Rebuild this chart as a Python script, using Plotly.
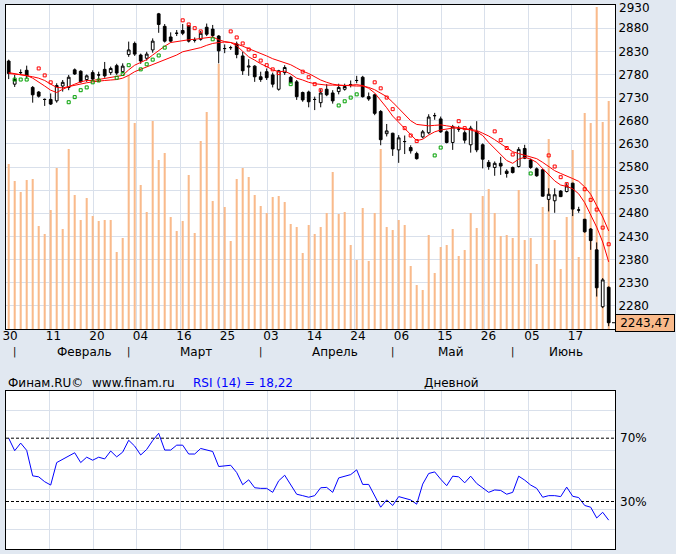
import numpy as np
import plotly.graph_objects as go

# ---------------- data ----------------
n_bars = 101
bar_idx = list(range(n_bars))

opens = [2809, 2759, 2784, 2789, 2752, 2742, 2726, 2726, 2723, 2755,
         2752, 2790, 2787, 2769, 2784, 2779, 2791, 2784, 2799, 2786,
         2823, 2847, 2822, 2815, 2833, 2911, 2884, 2861, 2869, 2875,
         2885, 2854, 2856, 2882, 2878, 2863, 2836, 2838, 2846, 2820,
         2796, 2798, 2775, 2786, 2779, 2748, 2784, 2774, 2764, 2741,
         2742, 2726, 2719, 2748, 2740, 2743, 2748, 2758, 2767, 2774,
         2732, 2736, 2700, 2652, 2653, 2617, 2635, 2622, 2609, 2645,
         2654, 2691, 2684, 2656, 2633, 2662, 2654, 2628, 2656, 2628,
         2590, 2579, 2588, 2571, 2579, 2581, 2620, 2595, 2576, 2574,
         2510, 2507, 2528, 2527, 2545, 2487, 2467, 2446, 2401, 2278,
         2320]
highs = [2812, 2779, 2791, 2799, 2755, 2744, 2728, 2739, 2761, 2768,
         2779, 2793, 2789, 2780, 2789, 2786, 2807, 2797, 2803, 2804,
         2851, 2851, 2825, 2829, 2858, 2913, 2889, 2871, 2876, 2889,
         2887, 2860, 2874, 2890, 2887, 2865, 2845, 2842, 2851, 2829,
         2813, 2800, 2786, 2793, 2784, 2790, 2800, 2777, 2768, 2743,
         2745, 2732, 2748, 2759, 2746, 2760, 2760, 2767, 2777, 2777,
         2741, 2738, 2703, 2673, 2654, 2649, 2648, 2627, 2613, 2660,
         2694, 2697, 2689, 2659, 2671, 2669, 2659, 2669, 2679, 2631,
         2595, 2592, 2602, 2575, 2581, 2623, 2628, 2598, 2579, 2575,
         2534, 2534, 2530, 2545, 2546, 2494, 2468, 2448, 2417, 2340,
         2322]
lows = [2770, 2753, 2779, 2771, 2719, 2730, 2712, 2714, 2719, 2743,
        2746, 2779, 2762, 2764, 2766, 2764, 2773, 2779, 2779, 2782,
        2818, 2820, 2803, 2810, 2827, 2870, 2849, 2849, 2863, 2865,
        2849, 2849, 2853, 2863, 2860, 2804, 2826, 2833, 2815, 2779,
        2777, 2764, 2764, 2768, 2752, 2745, 2779, 2761, 2725, 2721,
        2709, 2703, 2709, 2733, 2717, 2737, 2745, 2752, 2761, 2730,
        2723, 2692, 2627, 2646, 2604, 2589, 2608, 2609, 2596, 2642,
        2651, 2682, 2654, 2631, 2617, 2656, 2631, 2611, 2612, 2577,
        2574, 2561, 2563, 2557, 2566, 2579, 2597, 2576, 2559, 2516,
        2484, 2481, 2515, 2525, 2474, 2481, 2438, 2401, 2300, 2275,
        2236]
closes = [2782, 2769, 2784, 2777, 2736, 2733, 2726, 2716, 2756, 2763,
          2774, 2781, 2764, 2777, 2770, 2779, 2777, 2793, 2783, 2798,
          2833, 2824, 2809, 2824, 2852, 2888, 2852, 2852, 2869, 2869,
          2852, 2854, 2869, 2867, 2864, 2831, 2836, 2838, 2823, 2788,
          2798, 2775, 2769, 2773, 2759, 2788, 2795, 2762, 2732, 2725,
          2721, 2726, 2740, 2736, 2723, 2752, 2754, 2758, 2767, 2732,
          2727, 2696, 2639, 2658, 2619, 2643, 2635, 2615, 2598, 2656,
          2688, 2691, 2656, 2633, 2667, 2662, 2638, 2664, 2617, 2597,
          2581, 2588, 2582, 2566, 2568, 2618, 2599, 2579, 2561, 2517,
          2521, 2520, 2516, 2539, 2489, 2487, 2440, 2421, 2319, 2336,
          2243.47]

volume = [165, 148, 137, 149, 150, 103, 95, 119, 161, 100,
          180, 134, 109, 131, 113, 108, 109, 109, 77, 91,
          254, 206, 144, 117, 208, 169, 176, 112, 98, 108,
          154, 96, 188, 217, 128, 265, 122, 88, 150, 161,
          152, 134, 123, 116, 132, 133, 127, 105, 102, 76,
          104, 95, 102, 116, 157, 115, 117, 84, 69, 121,
          68, 116, 180, 102, 99, 109, 104, 63, 44, 39,
          94, 56, 82, 84, 100, 73, 79, 116, 101, 133,
          140, 116, 93, 94, 91, 139, 89, 91, 65, 122,
          190, 89, 60, 112, 179, 72, 216, 206, 322, 207,
          228]

ma_fast = [2782, 2781, 2779, 2778, 2772, 2764, 2755, 2746, 2741, 2748,
           2754, 2759, 2764, 2767, 2767, 2769, 2771, 2773, 2775, 2778,
           2790, 2800, 2806, 2812, 2822, 2832, 2841, 2849, 2851, 2854,
           2855, 2856, 2858, 2860, 2861, 2855, 2851, 2849, 2842, 2830,
           2818, 2811, 2803, 2797, 2790, 2786, 2787, 2781, 2772, 2768,
           2763, 2760, 2758, 2757, 2757, 2756, 2756, 2757, 2758, 2756,
           2750, 2740, 2725, 2708, 2690, 2676, 2662, 2650, 2637, 2640,
           2649, 2656, 2660, 2662, 2664, 2664, 2662, 2660, 2656, 2648,
           2633, 2620, 2605, 2594, 2588, 2597, 2601, 2597, 2590, 2577,
           2562, 2550, 2541, 2538, 2533, 2522, 2503, 2478, 2450, 2418,
           2375]
ma_slow = [2784, 2782, 2780, 2778, 2775, 2772, 2767, 2759, 2752, 2751,
           2754, 2757, 2759, 2762, 2764, 2766, 2767, 2768, 2769, 2772,
           2778, 2786, 2791, 2796, 2801, 2806, 2811, 2817, 2822, 2829,
           2832, 2835, 2838, 2843, 2847, 2849, 2850, 2849, 2846, 2841,
           2836, 2831, 2826, 2820, 2814, 2810, 2805, 2801, 2794, 2787,
           2782, 2775, 2768, 2763, 2759, 2757, 2756, 2755, 2755, 2755,
           2752, 2747, 2740, 2732, 2720, 2706, 2693, 2680, 2672, 2670,
           2669, 2670, 2671, 2669, 2667, 2666, 2664, 2662, 2659, 2653,
           2647, 2639, 2630, 2621, 2613, 2609, 2605, 2602, 2598, 2590,
           2580, 2572, 2566, 2561, 2555, 2549, 2537, 2521, 2498, 2472,
           2442]

sar_below_idx = [1, 2, 3, 10, 11, 12, 13, 14, 15, 18, 19, 20, 22, 23, 24, 25, 26,
                 34, 47, 55, 56, 57, 58, 71, 72, 87]
sar_below_val = [2769, 2769, 2769, 2720, 2731, 2746, 2752, 2763, 2767, 2773, 2781,
                 2800, 2791, 2802, 2812, 2821, 2838, 2856, 2759, 2713, 2722, 2730,
                 2737, 2605, 2622, 2566]
sar_above_idx = [5, 6, 7, 29, 30, 31, 32, 37, 38, 39, 40, 41, 42, 43, 44, 45,
                 49, 50, 51, 52, 61, 62, 63, 64, 65, 66, 67, 68, 75, 76,
                 81, 82, 83, 84, 90, 91, 92, 93, 96, 97, 98, 99, 100]
sar_above_val = [2793, 2778, 2763, 2897, 2888, 2880, 2873, 2873, 2860, 2847, 2834,
                 2820, 2810, 2800, 2791, 2783, 2786, 2774, 2759, 2746, 2763, 2750,
                 2730, 2705, 2685, 2664, 2648, 2636, 2679, 2664, 2657, 2638, 2621,
                 2607, 2605, 2581, 2558, 2543, 2532, 2509, 2488, 2449, 2413]

rsi = [70.0, 62.1, 66.9, 62.3, 46.2, 45.6, 42.5, 40.4, 54.6, 56.6,
       58.5, 60.8, 54.6, 58.0, 56.1, 58.0, 56.9, 61.9, 58.2, 61.2,
       68.7, 65.0, 59.4, 62.9, 68.5, 73.1, 62.5, 62.5, 65.6, 65.6,
       60.0, 60.0, 63.5, 62.7, 61.6, 52.1, 52.5, 52.9, 48.3, 40.6,
       43.7, 38.7, 38.3, 38.3, 35.8, 43.1, 46.6, 40.4, 34.6, 33.7,
       32.7, 33.7, 38.7, 38.9, 35.8, 44.9, 46.2, 47.0, 50.0, 40.8,
       40.8, 33.7, 26.4, 31.0, 27.5, 33.1, 32.0, 31.0, 28.3, 41.0,
       47.7, 48.7, 44.1, 40.0, 46.0, 45.6, 41.8, 46.0, 41.4, 38.3,
       35.8, 37.3, 37.0, 34.6, 35.8, 46.0, 43.5, 40.4, 38.3, 32.7,
       33.7, 33.7, 33.1, 39.1, 33.3, 32.5, 27.5, 26.4, 19.6, 23.2,
       18.22]

date_labels = ["30", "11", "20", "04", "16", "25", "03", "14", "24", "06",
               "15", "26", "05", "17"]
month_names = ["Февраль", "Март", "Апрель", "Май", "Июнь"]
month_start_idx = [1, 20, 42, 64, 84]
month_label_pos = [12.7, 31.2, 54.3, 73.7, 92.9]
price_ticks = list(range(2280, 2931, 50))
rsi_levels = [30, 70]
last_price = closes[-1]

# ---------------- style ----------------
FONT = "DejaVu Sans"
BG = "#E1E8F1"
GRID = "#D9E0EB"
VOL = "#F9BA8B"

W, H = 676, 554
ML, MR, MT, MB = 6, 61, 5, 5
plot_h = H - MT - MB
main_bottom = (H - MB - 329) / plot_h
rsi_top = (H - MB - 390.7) / plot_h

x_lo, x_hi = -0.45, 101.05
tick_pos = list(np.linspace(x_lo, x_hi, 15)[:14])
tick_pos[0] = x_lo + 0.02

fig = go.Figure()

fig.add_trace(go.Bar(x=bar_idx, y=volume, width=0.34, marker=dict(color=VOL, line=dict(width=0)),
                     xaxis="x", yaxis="y", hoverinfo="skip"))
fig.add_trace(go.Scatter(x=bar_idx, y=ma_slow, mode="lines", line=dict(color="#FF0000", width=1),
                         xaxis="x", yaxis="y3", hoverinfo="skip"))
fig.add_trace(go.Scatter(x=bar_idx, y=ma_fast, mode="lines", line=dict(color="#FF0000", width=1),
                         xaxis="x", yaxis="y3", hoverinfo="skip"))
fig.add_trace(go.Candlestick(x=bar_idx, open=opens, high=highs, low=lows, close=closes,
                             xaxis="x", yaxis="y3", whiskerwidth=0,
                             increasing=dict(line=dict(color="black", width=1), fillcolor="white"),
                             decreasing=dict(line=dict(color="black", width=1), fillcolor="black"),
                             hoverinfo="skip"))
fig.add_trace(go.Scatter(x=sar_below_idx, y=sar_below_val, mode="markers",
                         marker=dict(symbol="square-open", size=3, color="#00A000", line=dict(width=1)),
                         xaxis="x", yaxis="y3", hoverinfo="skip"))
fig.add_trace(go.Scatter(x=sar_above_idx, y=sar_above_val, mode="markers",
                         marker=dict(symbol="square-open", size=3, color="#FF0000", line=dict(width=1)),
                         xaxis="x", yaxis="y3", hoverinfo="skip"))
fig.add_trace(go.Scatter(x=bar_idx, y=rsi, mode="lines", line=dict(color="#0000FF", width=1),
                         xaxis="x2", yaxis="y2", hoverinfo="skip"))

axis_common = dict(showline=True, mirror=True, linecolor="black", linewidth=1,
                   zeroline=False, ticks="", gridcolor=GRID, gridwidth=1, automargin=False,
                   tickfont=dict(family=FONT, size=12, color="black"))

# the top price label is drawn as an annotation so that it stays fully inside the page
axis_price_text = [str(v) if v != price_ticks[-1] else "" for v in price_ticks]

fig.update_layout(
    width=W, height=H, margin=dict(l=ML, r=MR, t=MT, b=MB, autoexpand=False),
    paper_bgcolor=BG, plot_bgcolor="white", showlegend=False, hovermode=False,
    boxgap=0.35,
    font=dict(family=FONT, size=12, color="black"),
    xaxis=dict(domain=[0, 1], anchor="y", range=[x_lo, x_hi], tickmode="array",
               tickvals=tick_pos, ticktext=date_labels, showgrid=True,
               ticklabelshift=4, ticklabelstandoff=-4, ticklabeloverflow="allow",
               rangeslider=dict(visible=False), **axis_common),
    yaxis=dict(domain=[main_bottom, 1], range=[0, 324], visible=False),
    yaxis3=dict(overlaying="y", anchor="x", side="right", range=[2229.9, 2930.1],
                tickmode="array", tickvals=price_ticks, ticklabeloverflow="allow",
                ticktext=axis_price_text, showgrid=True, **axis_common),
    xaxis2=dict(domain=[0, 1], anchor="y2", matches="x", range=[x_lo, x_hi],
                tickmode="array", tickvals=tick_pos, showticklabels=False, showgrid=True,
                rangeslider=dict(visible=False), **axis_common),
    yaxis2=dict(domain=[0, rsi_top], anchor="x2", side="right", range=[0, 100],
                tickmode="array", tickvals=[12.5 * k for k in range(1, 8)],
                showticklabels=False, showgrid=True, **axis_common),
)

shapes = []
for lvl in rsi_levels:
    shapes.append(dict(type="line", xref="x2 domain", x0=0, x1=1, yref="y2", y0=lvl, y1=lvl,
                       line=dict(color="black", width=1, dash="3px,2px"), layer="above"))
shapes.append(dict(type="line", xref="paper", xsizemode="pixel", xanchor=1, x0=-3, x1=0,
                   yref="y3", y0=last_price, y1=last_price, line=dict(color="black", width=1)))
fig.update_layout(shapes=shapes)

row_month_y = (H - MB - 351.7) / plot_h
row_info_y = (H - MB - 382.7) / plot_h
ann = []
for name, pos in zip(month_names, month_label_pos):
    ann.append(dict(x=pos, xref="x", y=row_month_y, yref="paper", text=name, showarrow=False,
                    xanchor="center", yanchor="middle", font=dict(family=FONT, size=12, color="black")))
for pos in month_start_idx:
    ann.append(dict(x=pos, xref="x", y=row_month_y, yref="paper", text="|", showarrow=False,
                    xanchor="center", yanchor="middle", borderpad=0,
                    font=dict(family=FONT, size=10, color="black")))


def px_to_paper_x(px):
    return (px - ML) / (W - ML - MR)


ann.append(dict(x=px_to_paper_x(6.7), xref="paper", y=row_info_y, yref="paper", text="Финам.RU©",
                showarrow=False, xanchor="left", yanchor="middle", borderpad=0,
                font=dict(family=FONT, size=12, color="black")))
ann.append(dict(x=px_to_paper_x(90.7), xref="paper", y=row_info_y, yref="paper", text="www.finam.ru",
                showarrow=False, xanchor="left", yanchor="middle", borderpad=0,
                font=dict(family=FONT, size=12, color="black")))
ann.append(dict(x=px_to_paper_x(191.7), xref="paper", y=row_info_y, yref="paper",
                text="RSI (14) = 18,22", showarrow=False, xanchor="left", yanchor="middle",
                borderpad=0, font=dict(family=FONT, size=12, color="#0000FF")))
ann.append(dict(x=px_to_paper_x(451.7), xref="paper", y=row_info_y, yref="paper", text="Дневной",
                showarrow=False, xanchor="center", yanchor="middle", borderpad=0,
                font=dict(family=FONT, size=12, color="black")))
for lvl in rsi_levels:
    ann.append(dict(x=1, xref="paper", y=lvl, yref="y2", text=f"{lvl}%", showarrow=False,
                    xanchor="left", yanchor="middle", xshift=4, borderpad=0,
                    font=dict(family=FONT, size=12, color="black")))
ann.append(dict(x=1, xref="paper", y=1, yref="paper", text=str(price_ticks[-1]), showarrow=False,
                xanchor="left", yanchor="top", xshift=3, yshift=MT, borderpad=0,
                font=dict(family=FONT, size=12, color="black")))
ann.append(dict(x=1, xref="paper", y=last_price, yref="y3",
                text=f"{last_price:.2f}".replace(".", ","), showarrow=False,
                xanchor="left", yanchor="middle", align="center", width=56, height=14,
                bgcolor=VOL, bordercolor="black", borderwidth=1, borderpad=1,
                font=dict(family=FONT, size=12, color="black")))
fig.update_layout(annotations=ann)

fig.write_html("out.html", config={"displayModeBar": False})
